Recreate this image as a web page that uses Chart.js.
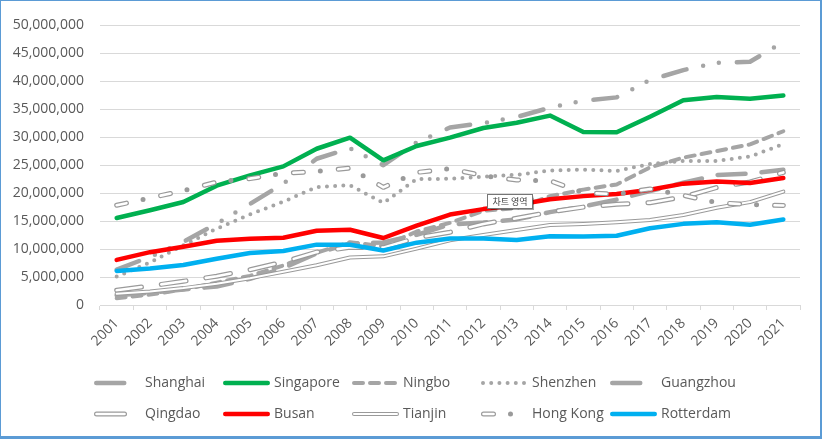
<!DOCTYPE html>
<html>
<head>
<meta charset="utf-8">
<title>Container ports</title>
<script src="https://cdn.jsdelivr.net/npm/chart.js@4.4.0/dist/chart.umd.min.js"></script>
<style>
    body { margin: 0; background: #fff; }
    #frame {
        position: absolute; left: 0; top: 0;
        width: 819px; height: 435px;
        border-style: solid; border-color: #5b9bd5;
        border-width: 1px 2px 3px 1px;
    }
</style>
</head>
<body>
<div id="frame"><canvas id="portChart" width="819" height="435"></canvas></div>
<script>
// Container throughput (TEU) per port, 2001-2021
const years = ["2001", "2002", "2003", "2004", "2005", "2006", "2007", "2008", "2009", "2010", "2011",
    "2012", "2013", "2014", "2015", "2016", "2017", "2018", "2019", "2020", "2021"];

const shanghai = [6340000, 8610000, 11280000, 14550000, 18080000, 21710000, 26150000, 28010000, 25000000, 29070000, 31740000,
    32530000, 33620000, 35290000, 36540000, 37130000, 40230000, 42010000, 43300000, 43500000, 47030000];
const singapore = [15570000, 16940000, 18410000, 21330000, 23190000, 24790000, 27940000, 29920000, 25870000, 28430000, 29940000,
    31650000, 32580000, 33870000, 30920000, 30900000, 33670000, 36600000, 37200000, 36870000, 37470000];
const ningbo = [1210000, 1860000, 2770000, 4000000, 5210000, 7070000, 9350000, 11230000, 10500000, 13140000, 14690000,
    16830000, 17350000, 19450000, 20630000, 21560000, 24610000, 26350000, 27530000, 28720000, 31070000];
const shenzhen = [5080000, 7610000, 10650000, 13650000, 16200000, 18470000, 21100000, 21410000, 18250000, 22510000, 22570000,
    22940000, 23280000, 24040000, 24200000, 23980000, 25210000, 25740000, 25770000, 26550000, 28770000];
const guangzhou = [1740000, 2180000, 2760000, 3310000, 4680000, 6600000, 9260000, 11000000, 11190000, 12550000, 14400000,
    14740000, 15310000, 16610000, 17620000, 18850000, 20370000, 21870000, 23240000, 23500000, 24180000];
const qingdao = [2640000, 3410000, 4240000, 5140000, 6310000, 7700000, 9460000, 10320000, 10260000, 12010000, 13020000,
    14500000, 15520000, 16620000, 17510000, 18010000, 18300000, 19320000, 21010000, 22000000, 23710000];
const busan = [8070000, 9450000, 10410000, 11490000, 11840000, 12030000, 13270000, 13450000, 11980000, 14190000, 16180000,
    17150000, 17900000, 18900000, 19470000, 19850000, 20600000, 21700000, 22100000, 21820000, 22710000];
const tianjin = [2010000, 2410000, 3020000, 3810000, 4800000, 5950000, 7100000, 8500000, 8700000, 10080000, 11590000,
    12500000, 13400000, 14300000, 14500000, 14800000, 15200000, 16100000, 17400000, 18400000, 20270000];
const hongKong = [17830000, 19140000, 20450000, 21980000, 22600000, 23540000, 23880000, 24490000, 21040000, 23700000, 24380000,
    23120000, 22350000, 22230000, 20070000, 19810000, 20760000, 19600000, 18300000, 17970000, 17800000];
const rotterdam = [6100000, 6520000, 7140000, 8280000, 9290000, 9650000, 10790000, 10780000, 9740000, 11150000, 11880000,
    11870000, 11620000, 12300000, 12230000, 12390000, 13730000, 14510000, 14810000, 14350000, 15300000];

const GRAY = "#a5a5a5";
const TEXT = "#595959";

// line looks (Excel style dashes); inner = white core drawn on top for the hollow lines
const series = [
    { name: "Shanghai", data: shanghai, color: GRAY, width: 4.5, dash: [24, 17, 0, 16, 0, 18], legendDash: [28, 100] },
    { name: "Singapore", data: singapore, color: "#00b050", width: 4.5 },
    { name: "Ningbo", data: ningbo, color: GRAY, width: 4, dash: [9, 7] },
    { name: "Shenzhen", data: shenzhen, color: GRAY, width: 4, dash: [0, 8.2] },
    { name: "Guangzhou", data: guangzhou, color: GRAY, width: 4.5, dash: [28, 16], legendDash: [28, 100] },
    { name: "Qingdao", data: qingdao, color: "#9a9a9a", width: 5, dash: [25, 20], legendDash: [28, 100],
        inner: { width: 2.6, dash: [25, 20], legendDash: [28, 100] } },
    { name: "Busan", data: busan, color: "#ff0000", width: 4.5 },
    { name: "Tianjin", data: tianjin, color: "#9a9a9a", width: 4, inner: { width: 2 } },
    { name: "Hong Kong", data: hongKong, color: "#9a9a9a", width: 5, dash: [10, 17, 0, 18],
        inner: { width: 2.6, dash: [10, 35] } },
    { name: "Rotterdam", data: rotterdam, color: "#00b0f0", width: 4.5 }
];

Chart.defaults.font.family = "'Open Sans', sans-serif";

// build the datasets, hollow lines get a second white copy right above them
const datasets = [];
series.forEach(s => {
    datasets.push({
        label: s.name, data: s.data,
        borderColor: s.color, borderWidth: s.width, borderDash: s.dash || [],
        order: 100 - datasets.length
    });
    if (s.inner) {
        datasets.push({
            label: s.name + " inner", data: s.data,
            borderColor: "#ffffff", borderWidth: s.inner.width, borderDash: s.inner.dash || [],
            order: 100 - datasets.length
        });
    }
});

function strokeSwatch(ctx, x, y, len, color, width, dash) {
    ctx.save();
    ctx.strokeStyle = color;
    ctx.lineWidth = width;
    ctx.lineCap = "round";
    ctx.setLineDash(dash || []);
    ctx.beginPath();
    ctx.moveTo(x + width / 2, y);
    ctx.lineTo(x + len - width / 2, y);
    ctx.stroke();
    ctx.restore();
}

// Excel-like legend: 5 fixed columns, 2 rows
const legendCols = [93, 222, 351, 480, 609];
const legendRows = [382, 413];
const legendPlugin = {
    id: "portLegend",
    afterDraw(chart) {
        const ctx = chart.ctx;
        series.forEach((s, i) => {
            const x = legendCols[i % 5];
            const y = legendRows[Math.floor(i / 5)];
            strokeSwatch(ctx, x, y, 47, s.color, s.width, s.legendDash || s.dash);
            if (s.inner) {
                strokeSwatch(ctx, x + (s.width - s.inner.width) / 2, y, 47 - (s.width - s.inner.width),
                    "#ffffff", s.inner.width, s.inner.legendDash || s.inner.dash);
            }
            ctx.save();
            ctx.fillStyle = TEXT;
            ctx.font = "14px 'Open Sans'";
            ctx.textBaseline = "middle";
            ctx.fillText(s.name, x + 51, y);
            ctx.restore();
        });

        // the little hover box that sits on the screenshot
        ctx.save();
        ctx.shadowColor = "rgba(0,0,0,0.35)";
        ctx.shadowOffsetX = 1;
        ctx.shadowOffsetY = 1;
        ctx.shadowBlur = 1;
        ctx.fillStyle = "#ffffff";
        ctx.fillRect(486.5, 193.5, 45, 14);
        ctx.shadowColor = "transparent";
        ctx.strokeStyle = "#767676";
        ctx.lineWidth = 1;
        ctx.strokeRect(486.5, 193.5, 45, 14);
        ctx.fillStyle = "#404040";
        ctx.font = "9px 'Noto Sans CJK KR'";
        ctx.textAlign = "center";
        ctx.textBaseline = "middle";
        ctx.fillText("차트 영역", 509, 201);
        ctx.restore();
    }
};

new Chart(document.getElementById("portChart"), {
    type: "line",
    data: { labels: years, datasets: datasets },
    options: {
        responsive: false,
        animation: false,
        devicePixelRatio: 1,
        layout: { padding: { left: 0, right: 20, top: 20, bottom: 81 } },
        elements: {
            line: { tension: 0, fill: false, borderCapStyle: "round", borderJoinStyle: "round" },
            point: { radius: 0, hoverRadius: 0 }
        },
        plugins: {
            legend: { display: false },
            tooltip: { enabled: false }
        },
        scales: {
            x: {
                offset: true,
                grid: { offset: true, drawOnChartArea: false, drawTicks: true, tickLength: 5, color: "#d9d9d9" },
                border: { display: true, color: "#d9d9d9" },
                ticks: { minRotation: 45, maxRotation: 45, color: TEXT, font: { size: 14 }, padding: 5 },
                afterFit(scale) { scale.height = 50; }
            },
            y: {
                min: 0,
                max: 50000000,
                grid: { color: "#d9d9d9", drawTicks: false },
                border: { display: false },
                ticks: {
                    stepSize: 5000000, color: TEXT, font: { size: 14 }, padding: 16,
                    callback: v => v.toLocaleString("en-US")
                },
                afterFit(scale) { scale.width = 99; }
            }
        }
    },
    plugins: [legendPlugin]
});
</script>
</body>
</html>
